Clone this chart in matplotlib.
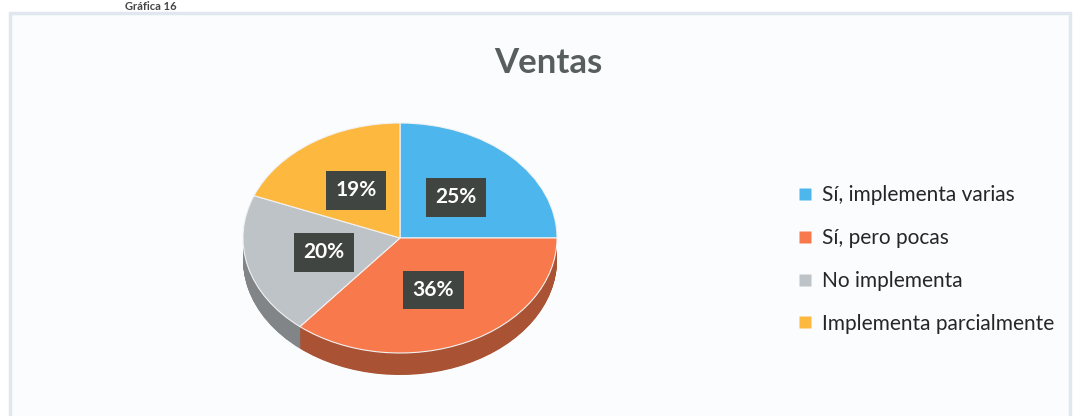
import matplotlib
matplotlib.use("Agg")
import matplotlib.pyplot as plt
from matplotlib.patches import Rectangle
from matplotlib.lines import Line2D
import matplotlib.colors as mcolors
import numpy as np

# ---- data ----
categories = ["Sí, implementa varias", "Sí, pero pocas", "No implementa", "Implementa parcialmente"]
values = [25, 36, 20, 19]
colors = ["#4DB6EC", "#F87A4C", "#BEC3C8", "#FDB83F"]
title = "Ventas"
caption = "Gráfica 16"

W, H = 1074, 416
fig = plt.figure(figsize=(W / 100, H / 100), dpi=100)
fig.patch.set_facecolor("white")

def fx(px):
    return px / W

def fy(py):
    return 1 - py / H

# chart area frame
bg = fig.add_axes([0, 0, 1, 1])
bg.set_xlim(0, W)
bg.set_ylim(H, 0)
bg.axis("off")
bg.add_patch(Rectangle((10, 13), 1060, 420, facecolor="#fbfcfe", edgecolor="#e0e7ef", lw=2.5))

fig.text(fx(125), fy(10), caption, fontsize=8, fontweight="bold", family="Lato",
         color="#444444", va="baseline", ha="left")

fig.text(fx(548), fy(73), title, fontsize=25, fontweight="bold", family="Lato",
         color="#585e5e", ha="center", va="baseline")

# pie axes
rx, ry, depth = 157, 115, 22
left_px, top_px = 243, 123
ax = fig.add_axes([fx(left_px), fy(top_px + 2 * ry + depth), fx(2 * rx), (2 * ry + depth) / H])
ax.axis("off")
d_units = depth / ry

# side: stack darker pies
side_colors = [tuple(np.array(mcolors.to_rgb(c)) * 0.68) for c in colors]
for d in np.linspace(d_units, 0.005, 40):
    ax.pie(values, colors=side_colors, startangle=90, counterclock=False,
           center=(0, -d), radius=1, wedgeprops=dict(linewidth=0))

wedges, texts, autotexts = ax.pie(
    values, colors=colors, startangle=90, counterclock=False, radius=1,
    autopct="%1.0f%%", pctdistance=0.5,
    wedgeprops=dict(linewidth=0.8, edgecolor="#f2f2f2"),
    textprops=dict(color="white", fontsize=15, family="Lato", fontweight="bold"))
for t in autotexts:
    t.set_bbox(dict(boxstyle="square,pad=0.45", facecolor="#404542", edgecolor="none"))

ax.set_aspect("auto")
ax.set_xlim(-1, 1)
ax.set_ylim(-1 - d_units, 1)

# legend
handles = [Line2D([0], [0], marker="s", linestyle="none", markersize=8.5,
                  markerfacecolor=c, markeredgecolor="none") for c in colors]
leg = fig.legend(handles, categories, loc="upper left",
                 bbox_to_anchor=(fx(798), fy(185)), frameon=False,
                 prop=dict(family="Lato", size=15), labelcolor="#262626",
                 handlelength=0.7, handletextpad=0.45, labelspacing=1.1,
                 borderaxespad=0, borderpad=0)

fig.savefig("out.png", dpi=100, facecolor=fig.get_facecolor())
